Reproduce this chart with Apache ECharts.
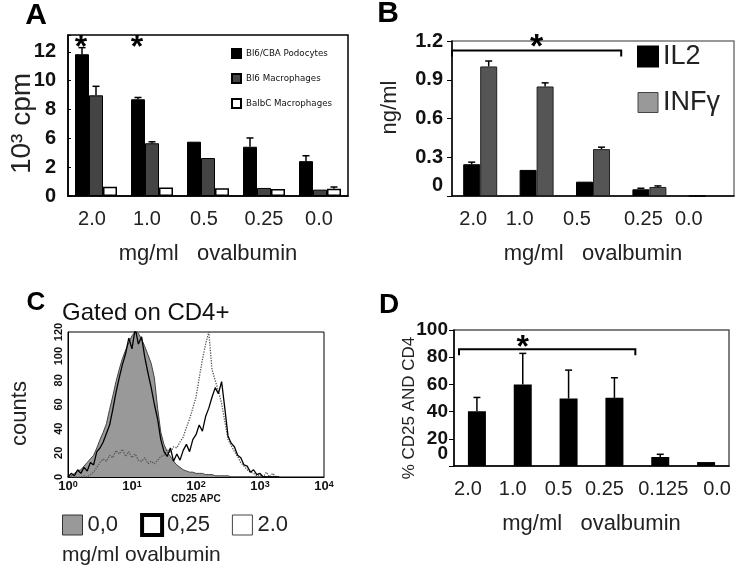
<!DOCTYPE html>
<html lang="en">
<head>
<meta charset="UTF-8">
<title>Ovalbumin responses</title>
<script src="https://cdn.jsdelivr.net/npm/echarts@6/dist/echarts.min.js"></script>
<style>
    html, body { margin: 0; padding: 0; background: #fff; }
    #main { width: 737px; height: 569px; }
</style>
</head>
<body>
<div id="main"></div>
<script>
var FONT = '"Liberation Sans", Arial, sans-serif';

// A - proliferation, 10^3 cpm (axis labels as printed)
var doseA = ['2.0', '1.0', '0.5', '0.25', '0.0'];
var yLabelsA = ['0', '2', '6', '8', '10', '12'];
var podo = [11.8, 8.05, 4.52, 4.1, 2.9];
var podoSem = [0.55, 0.15, 0.04, 0.73, 0.45];
var bl6 = [8.38, 4.39, 3.16, 0.67, 0.53];
var bl6Sem = [0.75, 0.12, 0.06, 0.03, 0.02];
var balb = [0.78, 0.7, 0.64, 0.59, 0.61];
var balbSem = [0.04, 0.03, 0.03, 0.03, 0.14];

// B - cytokines, ng/ml
var doseB = ['2.0', '1.0', '0.5', '0.25', '0.0'];
var il2 = [0.246, 0.202, 0.111, 0.052, 0];
var il2Sem = [0.016, 0, 0, 0.008, 0];
var inf = [1.003, 0.848, 0.363, 0.07, 0];
var infSem = [0.042, 0.028, 0.015, 0.008, 0];

// C - CD25 histograms (x = log10 of CD25 APC)
var cdExp = [0, 0.05, 0.1, 0.15, 0.2, 0.25, 0.3, 0.35, 0.4, 0.45, 0.5, 0.55, 0.6, 0.65, 0.7, 0.75, 0.8, 0.85, 0.9, 0.95,
    1, 1.05, 1.1, 1.15, 1.2, 1.25, 1.3, 1.35, 1.4, 1.45, 1.5, 1.55, 1.6, 1.65, 1.7, 1.75, 1.8, 1.85, 1.9, 1.95,
    2, 2.05, 2.1, 2.15, 2.2, 2.25, 2.3, 2.35, 2.4, 2.45, 2.5, 2.55, 2.6, 2.65, 2.7, 2.75, 2.8, 2.85, 2.9, 2.95,
    3, 3.05, 3.1, 3.15, 3.2, 3.25, 3.3];
var h00 = [0, 1, 3, 5, 6, 9, 12, 15, 18, 24, 31, 37, 44, 56, 67, 79, 89, 98, 105, 111,
    117, 120, 119, 114, 108, 101, 94, 82, 57, 37, 27, 21, 17, 13, 10, 8, 6, 5, 4, 4,
    3, 3, 3, 2, 2, 2, 1, 1, 1, 1, 1, 0, 0, 0, 0, 0, 0, 0, 0, 0,
    0, 0, 0, 0, 0, 0, 0];
var h025 = [0, 3, 1, 6, 3, 8, 5, 12, 10, 21, 24, 29, 36, 43, 56, 70, 82, 93, 102, 115,
    106, 123, 110, 116, 99, 86, 74, 60, 48, 31, 21, 17, 24, 13, 19, 14, 22, 27, 21, 31,
    35, 43, 38, 50, 57, 66, 74, 69, 79, 57, 34, 28, 25, 18, 16, 10, 9, 4, 6, 2,
    3, 0, 0, 0, 0, 0, 0];
var h20 = [0, 0, 0, 0, 0, 1, 0, 2, 4, 8, 12, 15, 13, 18, 16, 22, 19, 23, 17, 21,
    16, 19, 14, 13, 16, 11, 13, 11, 14, 17, 18, 23, 20, 25, 24, 29, 33, 41, 48, 57,
    66, 82, 97, 110, 120, 89, 80, 71, 61, 46, 31, 26, 21, 17, 12, 9, 6, 4, 3, 1,
    2, 0, 4, 0, 3, 0, 0];

// D - % CD25+ of CD4+
var doseD = ['2.0', '1.0', '0.5', '0.25', '0.125', '0.0'];
var cd25 = [40.3, 60, 49.6, 50.1, 6.6, 2.9];
var cd25Sem = [10.1, 22.8, 20.9, 14.8, 2.0, 0.5];

var chart = echarts.init(document.getElementById('main'));

function pairs(xs, ys) {
    return xs.map(function (x, i) { return [x, ys[i]]; });
}

// upper half error bars, drawn over grouped bars
function errBars(gi, vals, sems, n, idx, bw) {
    return {
        type: 'custom',
        xAxisIndex: gi,
        yAxisIndex: gi,
        z: 5,
        silent: true,
        renderItem: function (params, api) {
            var p0 = api.coord([api.value(0), api.value(1)]);
            var p1 = api.coord([api.value(0), api.value(2)]);
            if (p0[1] - p1[1] < 1) return;
            var x = p0[0] + (idx - (n - 1) / 2) * bw;
            var st = { stroke: '#000', lineWidth: 1.5 };
            return {
                type: 'group',
                children: [
                    { type: 'line', shape: { x1: x, y1: p0[1], x2: x, y2: p1[1] }, style: st },
                    { type: 'line', shape: { x1: x - 3.5, y1: p1[1], x2: x + 3.5, y2: p1[1] }, style: st }
                ]
            };
        },
        data: vals.map(function (v, i) { return [i, v, v + sems[i]]; })
    };
}

// dose labels sit a little off their bars in the original; shifts in px
function catAxis(gi, data, shifts) {
    var rich = {};
    shifts.forEach(function (s, i) {
        rich['o' + i] = { fontSize: 20, color: '#222', fontFamily: FONT,
            padding: s < 0 ? [0, -2 * s, 0, 0] : [0, 0, 0, 2 * s] };
    });
    return {
        gridIndex: gi,
        type: 'category',
        data: data,
        axisLine: { lineStyle: { color: '#000', width: 1.5 } },
        axisTick: { length: 5, lineStyle: { color: '#000', width: 1 } },
        axisLabel: { fontSize: 20, color: '#222', margin: 13, fontFamily: FONT, interval: 0, hideOverlap: false,
            formatter: function (v, i) { return '{o' + i + '|' + v + '}'; }, rich: rich },
        name: 'mg/ml   ovalbumin',
        nameLocation: 'middle',
        nameGap: 47,
        nameMoveOverlap: false,
        nameTextStyle: { fontSize: 22, color: '#222', fontFamily: FONT }
    };
}

function noZero(v) {
    return v === 0 ? '' : String(v);
}

var option = {
    animation: false,
    textStyle: { fontFamily: FONT },
    grid: [
        { left: 68, top: 35, width: 280, height: 161, show: true, borderColor: '#000', borderWidth: 1.5, outerBoundsMode: 'none' },
        { left: 452, top: 41, width: 282, height: 155, show: true, borderColor: '#777', borderWidth: 1.5, outerBoundsMode: 'none' },
        { left: 68, top: 332, width: 256, height: 145, show: true, borderColor: '#000', borderWidth: 1, outerBoundsMode: 'none' },
        { left: 454, top: 330, width: 275, height: 136, show: true, borderColor: '#555', borderWidth: 1.5, outerBoundsMode: 'none' }
    ],
    xAxis: [
        catAxis(0, doseA, [-4, -5, -4, 0, -1]),
        catAxis(1, doseB, [-7, -17, -16, -6, -17]),
        {
            gridIndex: 2, type: 'value', min: 0, max: 4, interval: 1,
            axisLine: { lineStyle: { color: '#000', width: 1 } },
            axisTick: { show: false },
            splitLine: { show: false },
            axisLabel: {
                margin: 3,
                formatter: function (v) { return '{b|10}{s|' + v + '}'; },
                rich: {
                    b: { fontSize: 13, fontWeight: 'bold', color: '#111', fontFamily: FONT },
                    s: { fontSize: 9, fontWeight: 'bold', color: '#111', fontFamily: FONT, verticalAlign: 'top' }
                }
            },
            name: 'CD25 APC', nameLocation: 'middle', nameGap: 17, nameMoveOverlap: false,
            nameTextStyle: { fontSize: 10, fontWeight: 'bold', color: '#111', fontFamily: FONT }
        },
        catAxis(3, doseD, [-9, -10, -10, -10, 3, 11])
    ],
    yAxis: [
        {
            gridIndex: 0, type: 'value', min: 0, max: 13.4, interval: 2.4,
            axisLine: { show: true, lineStyle: { color: '#000', width: 1.5 } },
            axisTick: { show: true, inside: true, length: 3, lineStyle: { color: '#000' } },
            splitLine: { show: false },
            axisLabel: {
                fontSize: 20, fontWeight: 'bold', color: '#111', margin: 12, fontFamily: FONT,
                formatter: function (v) {
                    var i = Math.round(v / 2.4);
                    return Math.abs(v - i * 2.4) < 1e-6 && i < yLabelsA.length ? yLabelsA[i] : '';
                }
            },
            name: '10³ cpm', nameLocation: 'middle', nameGap: 32, nameMoveOverlap: false,
            nameTextStyle: { fontSize: 28, color: '#222', fontFamily: FONT, padding: [0, 16, 0, 0] }
        },
        {
            gridIndex: 1, type: 'value', min: 0, max: 1.2, interval: 0.3,
            axisLine: { show: true, lineStyle: { color: '#000', width: 1.5 } },
            axisTick: { show: true, length: 5, lineStyle: { color: '#000' } },
            splitLine: { show: false },
            axisLabel: { fontSize: 20, fontWeight: 'bold', color: '#111', margin: 9, fontFamily: FONT, formatter: noZero },
            name: 'ng/ml', nameLocation: 'middle', nameGap: 51, nameMoveOverlap: false,
            nameTextStyle: { fontSize: 22, color: '#222', fontFamily: FONT, padding: [0, 0, 0, 22] }
        },
        {
            gridIndex: 2, type: 'value', min: 0, max: 120, interval: 20,
            axisLine: { show: true, lineStyle: { color: '#000', width: 1 } },
            axisTick: { show: false },
            splitLine: { show: false },
            axisLabel: { fontSize: 11, fontWeight: 'bold', color: '#111', margin: 4, rotate: 90, fontFamily: FONT },
            name: 'counts', nameLocation: 'middle', nameGap: 37, nameMoveOverlap: false,
            nameTextStyle: { fontSize: 22, color: '#222', fontFamily: FONT, padding: [0, 18, 0, 0] }
        },
        {
            gridIndex: 3, type: 'value', min: 0, max: 100, interval: 20,
            axisLine: { show: true, lineStyle: { color: '#000', width: 1.5 } },
            axisTick: { show: true, length: 5, lineStyle: { color: '#000' } },
            splitLine: { show: false },
            axisLabel: { fontSize: 19, fontWeight: 'bold', color: '#111', margin: 6, fontFamily: FONT, formatter: noZero },
            name: '% CD25 AND CD4', nameLocation: 'middle', nameGap: 36, nameMoveOverlap: false,
            nameTextStyle: { fontSize: 17, color: '#222', fontFamily: FONT, padding: [0, 20, 0, 0] }
        }
    ],
    legend: [
        {
            data: ['Bl6/CBA Podocytes', 'Bl6 Macrophages', 'BalbC Macrophages'],
            orient: 'vertical', left: 231, top: 48, icon: 'rect', padding: 0,
            itemWidth: 9, itemHeight: 9, itemGap: 14, selectedMode: false,
            textStyle: { fontFamily: '"DejaVu Sans", Verdana, sans-serif', fontSize: 8.7, color: '#111' }
        },
        {
            data: ['IL2', { name: 'INFγ', itemStyle: { color: '#999', borderColor: '#444', borderWidth: 1 } }],
            orient: 'vertical', left: 637, top: 43, icon: 'rect', padding: 0,
            itemWidth: 20, itemHeight: 20, itemGap: 19, selectedMode: false,
            textStyle: { fontSize: 27, color: '#222', fontFamily: FONT }
        },
        {
            data: [
                { name: '0,0', itemStyle: { color: '#999', borderColor: '#333', borderWidth: 1 } },
                { name: '0,25', itemStyle: { color: '#fff', borderColor: '#000', borderWidth: 4 } },
                { name: '2.0', itemStyle: { color: '#fff', borderColor: '#444', borderWidth: 1 } }
            ],
            orient: 'horizontal', left: 62, top: 513, icon: 'rect', padding: 0,
            itemWidth: 20, itemHeight: 20, itemGap: 22, selectedMode: false,
            textStyle: { fontSize: 22, color: '#222', fontFamily: FONT }
        }
    ],
    graphic: [
        { type: 'text', x: 36, y: 16, style: { text: 'A', font: 'bold 30px ' + FONT, fill: '#000', align: 'center', verticalAlign: 'middle' } },
        { type: 'text', x: 388, y: 14, style: { text: 'B', font: 'bold 30px ' + FONT, fill: '#000', align: 'center', verticalAlign: 'middle' } },
        { type: 'text', x: 36, y: 303, style: { text: 'C', font: 'bold 26px ' + FONT, fill: '#000', align: 'center', verticalAlign: 'middle' } },
        { type: 'text', x: 389, y: 305, style: { text: 'D', font: 'bold 28px ' + FONT, fill: '#000', align: 'center', verticalAlign: 'middle' } },
        { type: 'text', x: 62, y: 313, style: { text: 'Gated on CD4+', font: '24px ' + FONT, fill: '#111', align: 'left', verticalAlign: 'middle' } },
        { type: 'text', x: 62, y: 555, style: { text: 'mg/ml ovalbumin', font: '21px ' + FONT, fill: '#222', align: 'left', verticalAlign: 'middle' } }
    ],
    series: [
        { name: 'Bl6/CBA Podocytes', type: 'bar', xAxisIndex: 0, yAxisIndex: 0, data: podo, barWidth: 14, barGap: '0%',
          itemStyle: { color: '#000', borderColor: '#000', borderWidth: 1 } },
        { name: 'Bl6 Macrophages', type: 'bar', xAxisIndex: 0, yAxisIndex: 0, data: bl6, barWidth: 14, barGap: '0%',
          itemStyle: { color: '#444', borderColor: '#000', borderWidth: 1 } },
        { name: 'BalbC Macrophages', type: 'bar', xAxisIndex: 0, yAxisIndex: 0, data: balb, barWidth: 14, barGap: '0%',
          itemStyle: { color: '#fff', borderColor: '#000', borderWidth: 1.5 } },
        errBars(0, podo, podoSem, 3, 0, 14),
        errBars(0, bl6, bl6Sem, 3, 1, 14),
        errBars(0, balb, balbSem, 3, 2, 14),

        { name: 'IL2', type: 'bar', xAxisIndex: 1, yAxisIndex: 1, data: il2, barWidth: 17, barGap: '0%',
          itemStyle: { color: '#000', borderColor: '#000', borderWidth: 1 } },
        { name: 'INFγ', type: 'bar', xAxisIndex: 1, yAxisIndex: 1, data: inf, barWidth: 17, barGap: '0%',
          itemStyle: { color: '#555', borderColor: '#222', borderWidth: 1 } },
        errBars(1, il2, il2Sem, 2, 0, 17),
        errBars(1, inf, infSem, 2, 1, 17),

        { name: '0,0', type: 'line', xAxisIndex: 2, yAxisIndex: 2, data: pairs(cdExp, h00), symbol: 'none', z: 2,
          lineStyle: { color: '#444', width: 1 }, areaStyle: { color: '#999', opacity: 1 }, itemStyle: { color: '#999' } },
        { name: '2.0', type: 'line', xAxisIndex: 2, yAxisIndex: 2, data: pairs(cdExp, h20), symbol: 'none', z: 3,
          lineStyle: { color: '#555', width: 1.3, type: 'dotted' }, itemStyle: { color: '#fff' } },
        { name: '0,25', type: 'line', xAxisIndex: 2, yAxisIndex: 2, data: pairs(cdExp, h025), symbol: 'none', z: 4,
          lineStyle: { color: '#000', width: 1.3 }, itemStyle: { color: '#fff' } },

        { name: 'CD25+', type: 'bar', xAxisIndex: 3, yAxisIndex: 3, data: cd25, barWidth: 18,
          itemStyle: { color: '#000' } },
        errBars(3, cd25, cd25Sem, 1, 0, 18)
    ]
};

chart.setOption(option);

// significance brackets, stars and the raised "0" tick labels of B and D
function px(gi, x, y) {
    return chart.convertToPixel({ gridIndex: gi }, [x, y]);
}
function star(x, y, size) {
    return { type: 'text', x: x, y: y + size * 0.27, z: 10,
        style: { text: '*', font: 'bold ' + size + 'px ' + FONT, fill: '#000', align: 'center', verticalAlign: 'middle' } };
}
function bracket(x0, x1, y, drop) {
    return { type: 'polyline', z: 10,
        shape: { points: [[x0, y + drop], [x0, y], [x1, y], [x1, y + drop]] },
        style: { stroke: '#000', lineWidth: 2, fill: null } };
}
function zeroLabel(gi, margin, size, lift) {
    var y = px(gi, 0, 0)[1] - lift;
    return { type: 'text', x: option.grid[gi].left - margin, y: y, z: 10,
        style: { text: '0', font: 'bold ' + size + 'px ' + FONT, fill: '#111', align: 'right', verticalAlign: 'middle' } };
}

var marks = option.graphic.slice();
[0, 1].forEach(function (ci) {
    var p = px(0, ci, 13.0);
    marks.push(star(p[0] - 15, p[1], 32));
});

var bwB = px(1, 1, 0)[0] - px(1, 0, 0)[0];
var yB = px(1, 0, 1.126)[1];
marks.push(bracket(px(1, 0, 0)[0] - bwB / 2, px(1, 2, 0)[0] + bwB / 2, yB, 6));
var sB = px(1, 1, 1.22);
marks.push(star(sB[0], sB[1], 34));
marks.push(zeroLabel(1, 9, 20, 11));

var bwD = px(3, 1, 0)[0] - px(3, 0, 0)[0];
var yD = px(3, 0, 85.8)[1];
marks.push(bracket(px(3, 0, 0)[0] - bwD / 2 + 5, px(3, 3, 0)[0] + bwD / 2 - 2, yD, 6));
var sD = px(3, 1, 93.2);
marks.push(star(sD[0], sD[1], 32));
marks.push(zeroLabel(3, 6, 19, 12));

chart.setOption({ graphic: marks });
</script>
</body>
</html>
